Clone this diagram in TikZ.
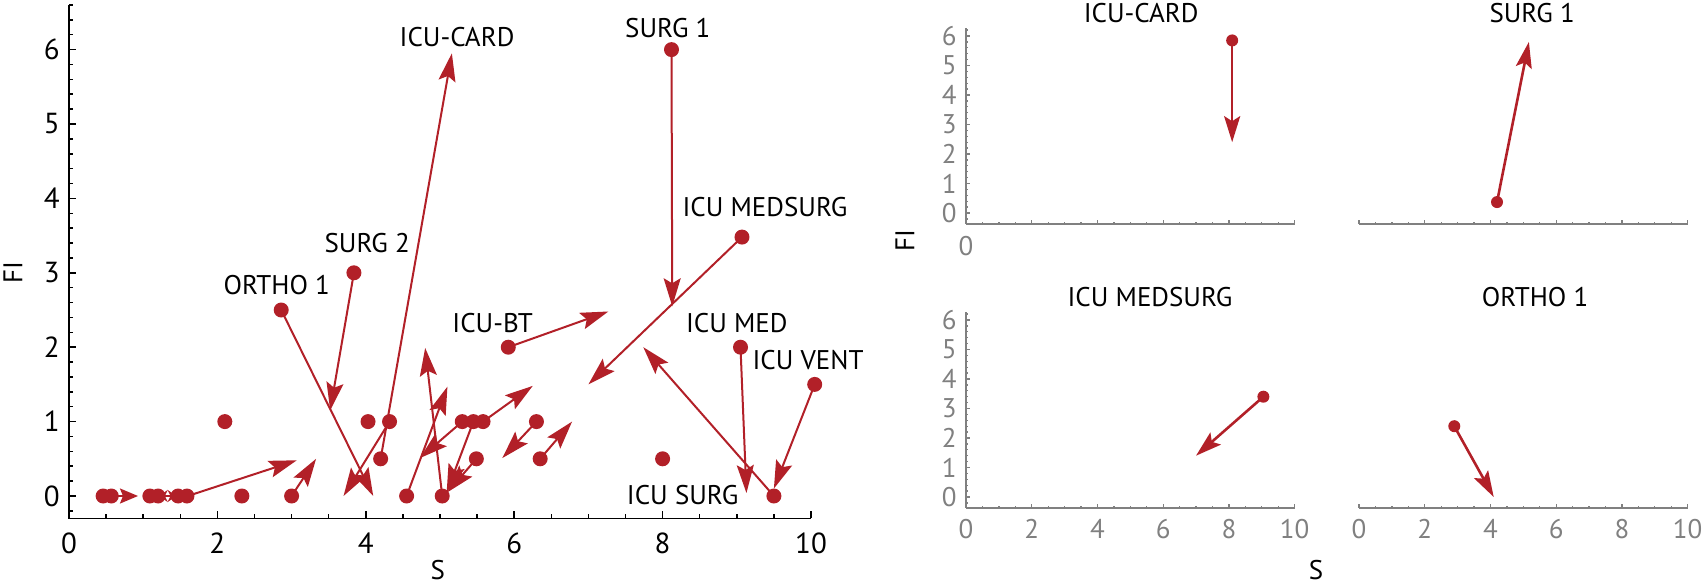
\documentclass[tikz,border=0pt]{standalone}
\usepackage{fontspec}
\setmainfont{PT Sans}
\usepackage{xcolor}
\usetikzlibrary{arrows.meta}
\definecolor{vecred}{RGB}{178,32,40}
\definecolor{axgray}{RGB}{128,128,128}

\begin{document}
\begin{tikzpicture}[
    x=0.5pt, y=0.5pt,
    vec/.style={draw=vecred, line width=1pt, -{Stealth[length=14pt,width=8.5pt,inset=2.5pt]}},
    shortvec/.style={draw=vecred, line width=1pt, -{Stealth[length=9pt,width=7.5pt,inset=1.5pt]}},
    tinyvec/.style={draw=vecred, line width=1pt, -{Stealth[length=4.5pt,width=6pt,inset=1.5pt]}},
    gvec/.style={draw=vecred, line width=1.3pt, -{Stealth[length=13pt,width=8pt,inset=2.5pt]}},
    lab/.style={font=\fontsize{13.5}{16}\selectfont},
    ticklab/.style={font=\fontsize{14.5}{17}\selectfont},
    gticklab/.style={text=axgray, font=\fontsize{13.5}{16}\selectfont},
    ax/.style={line width=0.75pt},
    gax/.style={draw=axgray, line width=0.65pt}]

  \useasboundingbox (0,0) rectangle (1705,586);

  % all wards
  \begin{scope}[shift={(34.5pt,45pt)}, x=37.1pt, y=37.2pt]
    \draw[ax] (0,6.6) -- (0,-0.3) -- (10,-0.3);
    \foreach \i in {-1,...,33} \draw[ax] (0,\i/5) -- ++(2pt,0);
    \foreach \y in {0,...,6} {
      \draw[ax] (0,\y) -- ++(3.5pt,0);
      \node[ticklab, anchor=east, inner sep=4.5pt] (ytick\y) at (0,\y) {\y};
    }
    \foreach \i in {1,...,19} \draw[ax] (\i/2,-0.3) -- ++(0,2pt);
    \foreach \x in {2,4,...,10} \draw[ax] (\x,-0.3) -- ++(0,3.5pt);
    \foreach \x in {0,2,...,10} \node[ticklab] (xtick\x) at (\x,-0.63) {\x};
    \node[lab] (sname) at (4.97,-0.99) {S};
    \node[lab, rotate=90] (finame) at (-0.755,3) {FI};

    \draw[shortvec] (0.57,0) -- (0.93,0);
    \draw[tinyvec] (1.33,0) -- (1.21,0);
    \draw[tinyvec] (1.33,0) -- (1.45,0);
    \foreach \a/\b/\c/\d in {1.6/0/3.07/0.48, 3.0/0/3.33/0.5, 2.86/2.5/4.1/0,
        3.84/3.0/3.52/1.15, 4.32/1/3.7/0, 4.2/0.5/5.16/5.95, 4.55/0/5.1/1.47,
        5.03/0/4.8/1.99, 5.3/1/4.73/0.51, 5.45/1/5.09/0.05, 5.58/1/6.25/1.48,
        5.49/0.5/5.1/0.05, 6.3/1/5.84/0.51, 6.35/0.5/6.78/1.0, 5.92/2/7.27/2.48,
        9.07/3.48/7.0/1.5, 8.12/6.0/8.13/2.55, 9.05/2/9.13/0.04, 9.5/0/7.74/2.0,
        10.05/1.5/9.5/0.1}
      \draw[vec] (\a,\b) -- (\c,\d);
    \foreach \a/\b in {0.46/0, 0.57/0, 1.09/0, 1.2/0, 1.47/0, 1.59/0, 2.1/1,
        2.33/0, 3.0/0, 2.86/2.5, 3.84/3, 4.03/1, 4.32/1, 4.2/0.5, 4.55/0, 5.03/0,
        5.3/1, 5.45/1, 5.58/1, 5.49/0.5, 6.3/1, 6.35/0.5, 5.92/2, 9.07/3.48,
        8.12/6, 9.05/2, 9.5/0, 10.05/1.5, 8.0/0.5}
      \fill[vecred] (\a,\b) circle (3.75pt);

    \node[lab] (icucard) at (5.23,6.17) {ICU-CARD};
    \node[lab] (surgone) at (8.07,6.29) {SURG 1};
    \node[lab] (icumedsurg) at (9.38,3.88) {ICU MEDSURG};
    \node[lab] (surgtwo) at (4.02,3.40) {SURG 2};
    \node[lab] (orthoone) at (2.80,2.84) {ORTHO 1};
    \node[lab] (icubt) at (5.71,2.33) {ICU-BT};
    \node[lab] (icumed) at (9.0,2.33) {ICU MED};
    \node[lab] (icuvent) at (9.96,1.83) {ICU VENT};
    \node[lab] (icusurg) at (8.27,0.01) {ICU SURG};
  \end{scope}

  % single wards
  \foreach \px/\py in {483/186.5, 679.5/186.5, 483/44.5, 679.5/44.5} {
    \begin{scope}[shift={(\px pt,\py pt)}, x=16.43pt, y=14.75pt]
      \draw[gax] (0,-0.37) -- (10,-0.37);
      \foreach \i in {1,...,19} \draw[gax] (\i/2,-0.37) -- ++(0,1.2pt);
      \foreach \x in {0,2,...,10} \draw[gax] (\x,-0.37) -- ++(0,2pt);
    \end{scope}
  }
  \foreach \py in {186.5, 44.5} {
    \begin{scope}[shift={(483pt,\py pt)}, x=16.43pt, y=14.75pt]
      \draw[gax] (0,6.27) -- (0,-0.37);
      \foreach \i in {-1,...,31} \draw[gax] (0,\i/5) -- ++(1.2pt,0);
      \foreach \y in {0,...,6} {
        \draw[gax] (0,\y) -- ++(2pt,0);
        \node[gticklab, anchor=east, inner sep=4.5pt] at (0,\y) {\y};
      }
    \end{scope}
  }

  \begin{scope}[shift={(483pt,186.5pt)}, x=16.43pt, y=14.75pt]
    \node[gticklab] (tlzero) at (0,-1.12) {0};
    \node[lab, rotate=90] (fiside) at (-1.86,-0.92) {FI};
    \node[lab] (cardtitle) at (5.33,6.78) {ICU-CARD};
    \draw[gvec] (8.1,5.85) -- (8.1,2.4);
    \fill[vecred] (8.1,5.85) circle (3pt);
  \end{scope}

  \begin{scope}[shift={(679.5pt,186.5pt)}, x=16.43pt, y=14.75pt]
    \node[lab] (surgtitle) at (5.27,6.78) {SURG 1};
    \draw[gvec] (4.2,0.37) -- (5.17,5.8);
    \fill[vecred] (4.2,0.37) circle (3pt);
  \end{scope}

  \begin{scope}[shift={(483pt,44.5pt)}, x=16.43pt, y=14.75pt]
    \foreach \x in {0,2,...,10} \node[gticklab] (blx\x) at (\x,-1.08) {\x};
    \node[lab] (medsurgtitle) at (5.6,6.78) {ICU MEDSURG};
    \draw[gvec] (9.05,3.4) -- (7.0,1.4);
    \fill[vecred] (9.05,3.4) circle (3pt);
  \end{scope}

  \begin{scope}[shift={(679.5pt,44.5pt)}, x=16.43pt, y=14.75pt]
    \foreach \x in {0,2,...,10} \node[gticklab] (brx\x) at (\x,-1.08) {\x};
    \node[lab] (sside) at (-1.31,-2.47) {S};
    \node[lab] (orthotitle) at (5.36,6.78) {ORTHO 1};
    \draw[gvec] (2.9,2.4) -- (4.1,0);
    \fill[vecred] (2.9,2.4) circle (3pt);
  \end{scope}
\end{tikzpicture}
\end{document}
